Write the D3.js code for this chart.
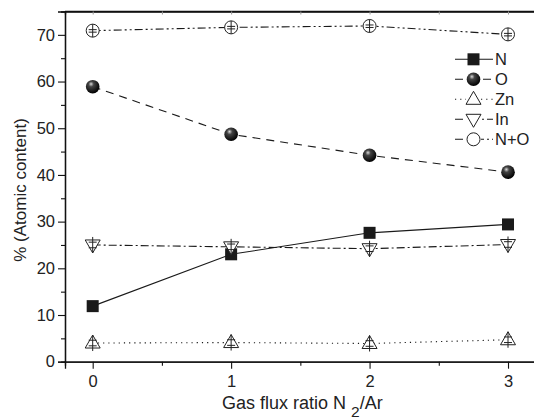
<!DOCTYPE html>
<html>
<head>
<meta charset="utf-8">
<script src="https://cdn.jsdelivr.net/npm/d3@7"></script>
<style>
  body { margin: 0; background: #fff; }
  svg { display: block; font-family: "Liberation Sans", Arial, sans-serif; }
</style>
</head>
<body>
<svg id="chart" width="534" height="420"></svg>
<script>
// data
const ratios = [0, 1, 2, 3];
const nValues = [11.9, 23.0, 27.6, 29.4];
const oValues = [58.9, 48.7, 44.2, 40.6];
const znValues = [4.0, 4.1, 3.9, 4.7];
const inValues = [25.0, 24.6, 24.2, 25.1];
const noValues = [70.9, 71.6, 71.9, 70.1];
const yTicks = [0, 10, 20, 30, 40, 50, 60, 70];
const xTicks = [0, 1, 2, 3];

const series = [
  { name: "N", values: nValues, marker: "square", dash: null },
  { name: "O", values: oValues, marker: "sphere", dash: "8,6" },
  { name: "Zn", values: znValues, marker: "up", dash: "1.2,4" },
  { name: "In", values: inValues, marker: "down", dash: "8,3,2,3" },
  { name: "N+O", values: noValues, marker: "circle", dash: "8,3,2,3,2,3" },
];

const FONT = "'Liberation Sans', Arial, sans-serif";
const svg = d3.select("#chart");
const x = d3.scaleLinear().domain([-0.2, 3.26]).range([65, 544]);
const y = d3.scaleLinear().domain([0, 75]).range([361.7, 11.5]);

// sphere gradient
const grad = svg.append("defs").append("radialGradient")
  .attr("id", "ball").attr("cx", "40%").attr("cy", "35%").attr("r", "65%")
  .attr("fx", "38%").attr("fy", "30%");
grad.append("stop").attr("offset", "0%").attr("stop-color", "#d8d8d8");
grad.append("stop").attr("offset", "30%").attr("stop-color", "#444");
grad.append("stop").attr("offset", "100%").attr("stop-color", "#000");

// frame
svg.append("line").attr("x1", 65).attr("x2", 534).attr("y1", 11.5).attr("y2", 11.5)
  .attr("stroke", "#111").attr("stroke-width", 1.3);

// axes
svg.append("g").attr("transform", "translate(65,0)")
  .call(d3.axisLeft(y).tickValues(yTicks).tickSize(7).tickPadding(3).tickFormat(d3.format("d")));
svg.append("g").attr("transform", "translate(65,0)")
  .call(d3.axisLeft(y).tickValues(d3.range(5, 75, 10)).tickSize(4).tickFormat(""));
svg.append("g").attr("transform", "translate(0,361.7)")
  .call(d3.axisBottom(x).tickValues(xTicks).tickSize(7).tickPadding(7).tickFormat(d3.format("d")));
svg.append("g").attr("transform", "translate(0,361.7)")
  .call(d3.axisBottom(x).tickValues([0.5, 1.5, 2.5]).tickSize(4).tickFormat(""));
// top inner ticks
svg.append("g").attr("transform", "translate(0,11.5)")
  .call(d3.axisTop(x).tickValues([0, 0.5, 1, 1.5, 2, 2.5, 3]).tickSize(-3).tickFormat(""))
  .selectAll("line").attr("stroke", "#999");
svg.selectAll(".domain").attr("stroke", "#111").attr("stroke-width", 1.3);
svg.selectAll(".tick line").filter(function () { return d3.select(this).attr("stroke") !== "#999"; })
  .attr("stroke", "#111").attr("stroke-width", 1.1);
svg.selectAll(".tick text").attr("font-size", 16.5).attr("fill", "#222")
  .attr("font-family", FONT);

// axis titles
svg.append("text")
  .attr("transform", "translate(26,190) rotate(-90)")
  .attr("text-anchor", "middle").attr("font-size", 17).attr("fill", "#222")
  .attr("font-family", FONT)
  .text("% (Atomic content)");
const xt = svg.append("text").attr("x", 222).attr("y", 409)
  .attr("font-size", 18).attr("fill", "#222").attr("font-family", FONT);
xt.append("tspan").text("Gas flux ratio N ");
xt.append("tspan").attr("dy", 8).attr("font-size", 15.5).text("2");
xt.append("tspan").attr("dy", -8).text("/Ar");

function drawMarker(g, type, cx, cy) {
  if (type === "square") {
    g.append("rect").attr("x", cx - 6).attr("y", cy - 6).attr("width", 12).attr("height", 12)
      .attr("fill", "#1a1a1a");
  } else if (type === "sphere") {
    g.append("circle").attr("cx", cx).attr("cy", cy).attr("r", 6.8).attr("fill", "url(#ball)");
  } else if (type === "circle") {
    g.append("circle").attr("cx", cx).attr("cy", cy).attr("r", 6.5)
      .attr("fill", "#fff").attr("stroke", "#222").attr("stroke-width", 1);
  } else {
    const s = type === "up" ? 1 : -1;
    const pts = [[cx, cy - 8 * s], [cx - 7.5, cy + 5 * s], [cx + 7.5, cy + 5 * s]];
    g.append("path").attr("d", d3.line()(pts) + "Z")
      .attr("fill", "#fff").attr("stroke", "#222").attr("stroke-width", 1);
  }
}

function drawError(g, cx, cy, half) {
  g.append("line").attr("x1", cx).attr("x2", cx).attr("y1", cy - half).attr("y2", cy + half)
    .attr("stroke", "#222").attr("stroke-width", 1);
  [-half * 0.35, half * 0.35].forEach(d => {
    g.append("line").attr("x1", cx - 4).attr("x2", cx + 4).attr("y1", cy + d).attr("y2", cy + d)
      .attr("stroke", "#222").attr("stroke-width", 1);
  });
}

const line = d3.line().x((d, i) => x(ratios[i])).y(d => y(d));

series.forEach(s => {
  svg.append("path").datum(s.values).attr("d", line)
    .attr("fill", "none").attr("stroke", "#1a1a1a").attr("stroke-width", 1.1)
    .attr("stroke-dasharray", s.dash);
});

// markers drawn after lines
series.forEach(s => {
  const g = svg.append("g");
  s.values.forEach((v, i) => {
    const cx = x(ratios[i]), cy = y(v);
    drawMarker(g, s.marker, cx, cy);
    if (s.marker === "circle") {
      g.append("line").attr("x1", cx).attr("x2", cx).attr("y1", cy - 6.5).attr("y2", cy + 6.5)
        .attr("stroke", "#222").attr("stroke-width", 1);
      g.append("line").attr("x1", cx - 4).attr("x2", cx + 4).attr("y1", cy - 1).attr("y2", cy - 1)
        .attr("stroke", "#222");
      g.append("line").attr("x1", cx - 4).attr("x2", cx + 4).attr("y1", cy + 1.5).attr("y2", cy + 1.5)
        .attr("stroke", "#222");
    } else if (s.marker === "up" || s.marker === "down") {
      drawError(g, cx, cy, 8);
    }
  });
});

// legend
const legend = svg.append("g");
series.forEach((s, i) => {
  const ly = 59.3 + i * 20;
  legend.append("line").attr("x1", 455).attr("x2", 493).attr("y1", ly).attr("y2", ly)
    .attr("stroke", "#1a1a1a").attr("stroke-width", 1.1).attr("stroke-dasharray", s.dash);
  const mg = legend.append("g");
  // white backing so the sample line does not cross the open markers
  if (s.marker !== "square" && s.marker !== "sphere") {
    mg.append("rect").attr("x", 466).attr("y", ly - 8).attr("width", 15).attr("height", 16).attr("fill", "#fff");
  }
  drawMarker(mg, s.marker, 473.5, ly);
  legend.append("text").attr("x", 495).attr("y", ly + 6)
    .attr("font-size", 16.5).attr("fill", "#222").attr("font-family", FONT).text(s.name);
});
</script>
</body>
</html>
